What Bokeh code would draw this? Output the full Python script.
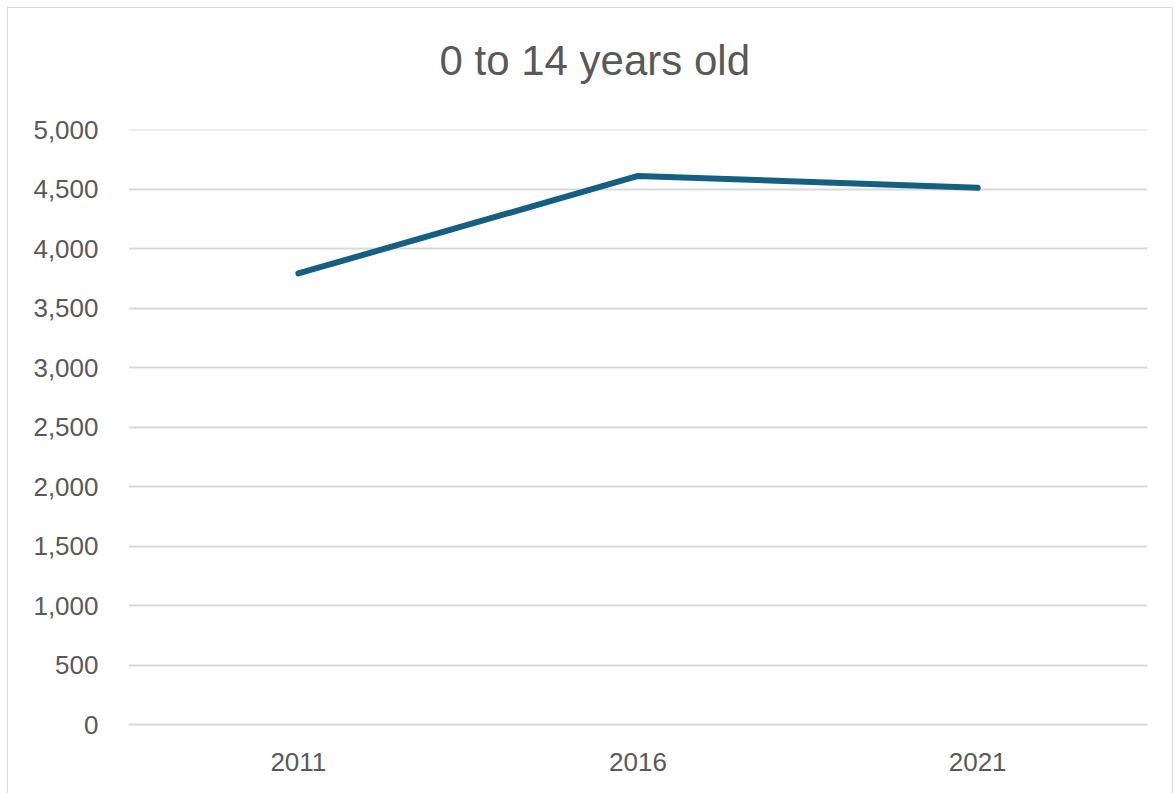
from bokeh.plotting import figure
from bokeh.models import FixedTicker, NumeralTickFormatter, Title, Span
from bokeh.embed import file_html
from bokeh.resources import INLINE

# Population aged 0 to 14 by census year
years = ["2011", "2016", "2021"]
population = [3790, 4610, 4510]
y_ticks = list(range(0, 5001, 500))
y_max = 5000
chart_title = "0 to 14 years old"

FONT = "Liberation Sans"
TEXT = "#595959"
GRID = "#d9d9d9"

p = figure(
    x_range=years,
    y_range=(0, y_max),
    width=1164,
    height=790,
    output_backend="svg",
    toolbar_location=None,
    min_border_left=120,
    min_border_right=25,
    min_border_top=121,
    min_border_bottom=74,
    margin=(8, 0, 0, 8),
    background_fill_color="white",
    border_fill_color="white",
    outline_line_color=None,
)
p.styles = {"outline": "1px solid #d9d9d9"}

# blank spacer panel between the plot frame and the title
p.add_layout(Title(text=" ", text_font_size="10px", standoff=33), "above")

# title is centred on the whole chart rather than on the plot frame
p.title = Title(
    text=chart_title,
    align="left",
    vertical_align="bottom",
    text_font=FONT,
    text_font_size="42px",
    text_font_style="normal",
    text_color=TEXT,
    standoff=0,
    offset=311,
)

p.line(x=years, y=population, line_color="#156082", line_width=6,
       line_cap="round", line_join="round")

# top gridline sits on the frame edge, draw it explicitly
p.add_layout(Span(location=y_max, dimension="width", line_color=GRID, line_width=2))

# y axis
p.yaxis.ticker = FixedTicker(ticks=y_ticks)
p.yaxis.formatter = NumeralTickFormatter(format="0,0")
p.yaxis.axis_line_color = None
p.yaxis.major_tick_line_color = None
p.yaxis.minor_tick_line_color = None
p.yaxis.major_label_standoff = 24
p.yaxis.major_label_text_font = FONT
p.yaxis.major_label_text_font_size = "26px"
p.yaxis.major_label_text_color = TEXT

# x axis
p.xaxis.axis_line_color = GRID
p.xaxis.axis_line_width = 2
p.xaxis.major_tick_line_color = None
p.xaxis.minor_tick_line_color = None
p.xaxis.major_label_standoff = 22
p.xaxis.major_label_text_font = FONT
p.xaxis.major_label_text_font_size = "26px"
p.xaxis.major_label_text_color = TEXT

p.xgrid.grid_line_color = None
p.ygrid.grid_line_color = GRID
p.ygrid.grid_line_width = 2

open("out.html", "w").write(file_html(p, INLINE))
